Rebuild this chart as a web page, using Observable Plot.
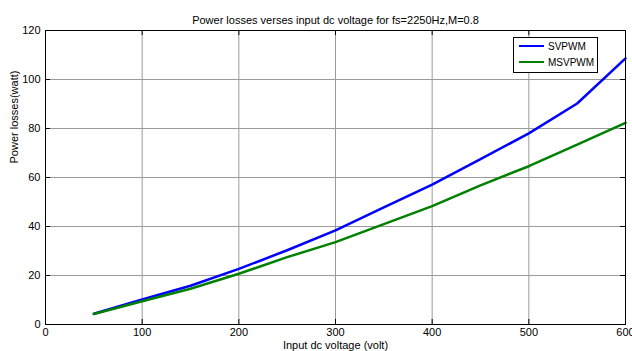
<!DOCTYPE html>
<html>
<head>
<meta charset="utf-8">
<script src="https://cdn.jsdelivr.net/npm/d3@7"></script>
<script src="https://cdn.jsdelivr.net/npm/@observablehq/plot@0.6"></script>
<style>
  html, body { margin: 0; padding: 0; background: #fff; }
  #wrap { position: relative; width: 632px; height: 351px; overflow: hidden; font-family: "Liberation Sans", Arial, sans-serif; }
  #legend { position: absolute; left: 513px; top: 37px; width: 83px; height: 34px; border: 1px solid #000; background: #fff; font-size: 10px; }
  .row { position: absolute; left: 5px; height: 12px; display: flex; align-items: center; }
  .sw { width: 25px; height: 0; border-top-width: 2.5px; border-top-style: solid; margin-right: 4px; }
</style>
</head>
<body>
<div id="wrap"></div>
<script>
const voltage = [50, 100, 150, 200, 250, 300, 350, 400, 450, 500, 550, 600];
const svpwm   = [4.4, 10.2, 15.8, 22.7, 30.3, 38.4, 47.8, 57.1, 67.5, 78.0, 90.2, 108.6];
const msvpwm  = [4.3, 9.5, 14.6, 20.7, 27.5, 33.6, 41.0, 48.3, 56.8, 64.6, 73.4, 82.3];
const seriesNames = ["SVPWM", "MSVPWM"];
const seriesColors = ["#0000ff", "#008000"];
const xTicks = [0, 100, 200, 300, 400, 500, 600];
const yTicks = [0, 20, 40, 60, 80, 100, 120];
const titleText = "Power losses verses input dc voltage for fs=2250Hz,M=0.8";
const xLabel = "Input dc voltage (volt)";
const yLabel = "Power losses(watt)";

const rows = [];
voltage.forEach((v, i) => {
  rows.push({v, p: svpwm[i], s: seriesNames[0]});
});
voltage.forEach((v, i) => {
  rows.push({v, p: msvpwm[i], s: seriesNames[1]});
});

const H = 351, mT = 30, mB = 27;
const fh = H - mT - mB;
const tk = 5;

const chart = Plot.plot({
  width: 632,
  height: H,
  marginLeft: 45,
  marginRight: 7,
  marginTop: mT,
  marginBottom: mB,
  style: {fontFamily: "Liberation Sans, Arial, sans-serif", fontSize: "11px", color: "#000", background: "#fff"},
  x: {domain: [0, 600], ticks: xTicks},
  y: {domain: [0, 120], ticks: yTicks},
  color: {domain: seriesNames, range: seriesColors},
  marks: [
    Plot.gridX(xTicks, {stroke: "#9a9a9a", strokeOpacity: 1, strokeWidth: 1}),
    Plot.gridY(yTicks, {stroke: "#9a9a9a", strokeOpacity: 1, strokeWidth: 1}),
    Plot.tickX(xTicks, {x: d => d, stroke: "#000", insetTop: fh - tk}),
    Plot.tickX(xTicks, {x: d => d, stroke: "#000", insetBottom: fh - tk}),
    Plot.tickY(yTicks, {y: d => d, stroke: "#000", insetRight: 580 - tk}),
    Plot.tickY(yTicks, {y: d => d, stroke: "#000", insetLeft: 580 - tk}),
    Plot.axisX(xTicks, {tickSize: 0, tickPadding: 4, label: null, fontSize: 11}),
    Plot.axisY(yTicks, {tickSize: 0, tickPadding: 5, label: null, fontSize: 11}),
    Plot.line(rows, {x: "v", y: "p", z: "s", stroke: "s", strokeWidth: 2.5, strokeLinejoin: "miter"}),
    Plot.frame({stroke: "#000", strokeWidth: 1}),
    Plot.text([titleText], {frameAnchor: "top", dy: -14, fontSize: 11, text: d => d}),
    Plot.text([xLabel], {frameAnchor: "bottom", dy: 24, fontSize: 11, text: d => d}),
    Plot.text([yLabel], {frameAnchor: "left", dx: -31, dy: -14, rotate: -90, fontSize: 11, text: d => d})
  ]
});

const wrap = document.getElementById("wrap");
wrap.appendChild(chart);

const leg = document.createElement("div");
leg.id = "legend";
seriesNames.forEach((n, i) => {
  const r = document.createElement("div");
  r.className = "row";
  r.style.top = (2 + i * 16) + "px";
  const sw = document.createElement("div");
  sw.className = "sw";
  sw.style.borderTopColor = seriesColors[i];
  const t = document.createElement("span");
  t.textContent = n;
  r.appendChild(sw);
  r.appendChild(t);
  leg.appendChild(r);
});
wrap.appendChild(leg);
</script>
</body>
</html>
